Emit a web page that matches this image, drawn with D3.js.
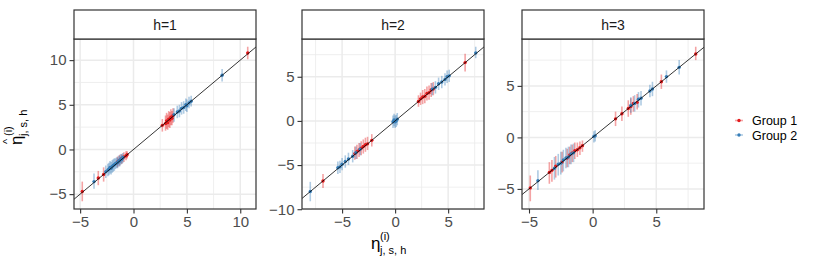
<!DOCTYPE html>
<html>
<head>
<meta charset="utf-8">
<script src="https://cdn.jsdelivr.net/npm/d3@7"></script>
<style>
  body { margin: 0; background: #fff; }
  svg { font-family: "Liberation Sans", Arial, sans-serif; }
</style>
</head>
<body>
<div id="wrapper"></div>
<script>
// each row: [true value, estimate, lower, upper]
const h1Group1 = [
  [-4.8, -4.7, -5.8, -3.6], [-3.3, -3.2, -4.0, -2.4], [-2.8, -2.8, -3.6, -2.0],
  [-1.5, -1.4, -2.0, -0.8], [-1.3, -1.2, -1.8, -0.6], [-1.1, -1.0, -1.6, -0.5],
  [-0.9, -0.85, -1.4, -0.3], [-0.7, -0.7, -1.2, -0.2], [-0.6, -0.6, -1.0, -0.2],
  [2.7, 2.7, 2.0, 3.4], [3.0, 2.9, 2.1, 3.8], [3.1, 3.2, 2.3, 4.1],
  [3.2, 3.0, 2.2, 3.9], [3.3, 3.4, 2.5, 4.3], [3.4, 3.3, 2.4, 4.2],
  [3.5, 3.6, 2.7, 4.5], [3.6, 3.5, 2.7, 4.3], [3.7, 3.8, 3.0, 4.6],
  [10.7, 10.8, 10.1, 11.5]
];
const h1Group2 = [
  [-3.7, -3.6, -4.4, -2.7], [-2.6, -2.5, -3.2, -1.8], [-2.4, -2.3, -3.0, -1.6],
  [-2.3, -2.2, -2.9, -1.5], [-2.2, -2.0, -2.7, -1.3], [-2.1, -2.1, -2.8, -1.4],
  [-2.0, -1.9, -2.6, -1.2], [-1.9, -1.8, -2.5, -1.1], [-1.8, -1.7, -2.4, -1.0],
  [-1.7, -1.6, -2.2, -1.0], [-1.6, -1.5, -2.1, -0.9], [-1.5, -1.5, -2.1, -0.9],
  [-1.4, -1.3, -1.9, -0.7], [-1.3, -1.3, -1.9, -0.7], [-1.2, -1.1, -1.7, -0.5],
  [-1.1, -1.1, -1.6, -0.6], [-1.0, -0.9, -1.5, -0.4],
  [3.8, 3.9, 3.1, 4.6], [4.1, 4.2, 3.5, 4.9], [4.3, 4.3, 3.6, 5.0],
  [4.5, 4.6, 3.9, 5.3], [4.7, 4.7, 4.0, 5.4], [4.9, 5.0, 4.3, 5.7],
  [5.0, 4.9, 4.2, 5.6], [5.2, 5.2, 4.6, 5.9], [5.4, 5.4, 4.8, 6.0],
  [8.3, 8.3, 7.6, 9.0]
];
const h2Group1 = [
  [-6.8, -6.8, -7.6, -6.0], [-3.8, -3.7, -4.4, -2.9], [-3.6, -3.5, -4.3, -2.7],
  [-3.4, -3.3, -4.1, -2.5], [-3.2, -3.1, -3.9, -2.3], [-3.0, -2.9, -3.7, -2.1],
  [-2.8, -2.7, -3.5, -1.9], [-2.6, -2.6, -3.3, -1.8], [-2.2, -2.2, -2.9, -1.5],
  [2.2, 2.2, 1.6, 2.9], [2.4, 2.5, 1.8, 3.2], [2.6, 2.7, 1.9, 3.5],
  [2.8, 2.8, 2.0, 3.6], [3.0, 3.1, 2.3, 3.9], [3.2, 3.2, 2.4, 4.0],
  [3.4, 3.5, 2.7, 4.3], [3.6, 3.6, 2.9, 4.4], [6.6, 6.6, 5.6, 7.6]
];
const h2Group2 = [
  [-8.0, -8.0, -9.1, -6.9], [-5.4, -5.3, -6.0, -4.6], [-5.2, -5.2, -5.9, -4.5],
  [-5.0, -4.9, -5.6, -4.2], [-4.7, -4.6, -5.3, -3.9], [-4.4, -4.3, -5.0, -3.6],
  [-4.0, -4.0, -4.7, -3.3], [-3.7, -3.6, -4.3, -2.9], [-3.3, -3.2, -3.9, -2.5],
  [-0.2, -0.1, -0.8, 0.6], [-0.1, 0.1, -0.6, 0.8], [0.0, -0.1, -0.8, 0.6],
  [0.1, 0.0, -0.7, 0.7], [0.2, 0.2, -0.5, 0.9],
  [3.5, 3.6, 2.9, 4.3], [3.8, 3.8, 3.1, 4.5], [4.1, 4.2, 3.5, 4.9],
  [4.4, 4.4, 3.7, 5.1], [4.7, 4.7, 4.0, 5.4], [4.9, 5.0, 4.3, 5.7],
  [5.1, 5.1, 4.4, 5.8], [7.6, 7.7, 7.1, 8.4]
];
const h3Group1 = [
  [-4.9, -4.9, -6.2, -3.7], [-3.4, -3.4, -4.5, -2.4], [-3.2, -3.2, -4.3, -2.2],
  [-2.9, -2.8, -3.9, -1.8], [-2.4, -2.4, -3.4, -1.4], [-2.0, -2.0, -2.9, -1.1],
  [-1.8, -1.7, -2.6, -0.9], [-1.6, -1.5, -2.4, -0.7], [-1.4, -1.3, -2.1, -0.5],
  [-1.2, -1.2, -1.9, -0.5], [-1.0, -1.0, -1.7, -0.4], [-0.8, -0.8, -1.4, -0.3],
  [1.8, 1.8, 1.1, 2.5], [2.3, 2.3, 1.6, 3.0], [2.8, 2.8, 2.0, 3.6],
  [3.0, 3.0, 2.2, 3.8], [3.2, 3.3, 2.5, 4.0], [3.5, 3.4, 2.7, 4.2],
  [5.4, 5.4, 4.7, 6.1], [8.1, 8.1, 7.5, 8.8]
];
const h3Group2 = [
  [-4.3, -4.2, -5.1, -3.2], [-3.0, -3.0, -4.1, -1.9], [-2.7, -2.6, -3.7, -1.6],
  [-2.5, -2.5, -3.6, -1.4], [-2.3, -2.2, -3.3, -1.2], [-2.1, -2.0, -3.0, -1.0],
  [-1.9, -1.9, -2.9, -0.9], [-1.7, -1.6, -2.6, -0.7], [-1.5, -1.5, -2.4, -0.6],
  [0.1, 0.1, -0.5, 0.6], [0.2, 0.15, -0.4, 0.7],
  [3.0, 3.1, 2.4, 3.9], [3.3, 3.3, 2.5, 4.1], [3.6, 3.7, 2.9, 4.4],
  [3.8, 3.8, 3.1, 4.5], [4.5, 4.5, 3.9, 5.1], [4.7, 4.7, 4.0, 5.4],
  [5.8, 5.9, 5.3, 6.5], [6.8, 6.8, 6.1, 7.5]
];

const facetLabels = ["h=1", "h=2", "h=3"];
const groupNames = ["Group 1", "Group 2"];
const groupColors = ["#E41A1C", "#377EB8"];
const xBreaks = [[-5, 0, 5, 10], [-5, 0, 5], [-5, 0, 5]];
const yBreaks = [[-5, 0, 5, 10], [-10, -5, 0, 5], [-5, 0, 5]];

const panelData = [[h1Group1, h1Group2], [h2Group1, h2Group2], [h3Group1, h3Group2]];

const width = 830, height = 277;
const panelLefts = [74, 302, 522];
const panelW = 182;
const stripTop = 10, panelTop = 39, panelBottom = 209;

let svg = d3.select("#wrapper").append("svg")
            .attr("width", width)
            .attr("height", height);

svg.append("rect").attr("width", width).attr("height", height).attr("fill", "#fff");

// ggplot-style 5% expansion
function expand(ext) {
    let d = ext[1] - ext[0];
    return [ext[0] - d * 0.05, ext[1] + d * 0.05];
}

function minorBreaks(br, dom) {
    let step = br[1] - br[0];
    let out = [];
    for (let i = -1; i < br.length; i++) {
        let m = br[0] + step * i + step / 2;
        if (m > dom[0] && m < dom[1]) out.push(m);
    }
    return out;
}

panelData.forEach((groups, p) => {
    let rows = groups.flatMap((g, gi) => g.map(r => ({x: r[0], y: r[1], lo: r[2], hi: r[3], g: gi})));
    let xDom = expand(d3.extent(rows, d => d.x));
    let yDom = expand([d3.min(rows, d => d.lo), d3.max(rows, d => d.hi)]);

    let x0 = panelLefts[p], x1 = x0 + panelW;
    let xScale = d3.scaleLinear().domain(xDom).range([x0, x1]);
    let yScale = d3.scaleLinear().domain(yDom).range([panelBottom, panelTop]);

    let g = svg.append("g");

    g.append("clipPath").attr("id", `clip${p}`)
        .append("rect")
        .attr("x", x0).attr("y", panelTop)
        .attr("width", panelW).attr("height", panelBottom - panelTop);

    // minor grid
    g.append("g").selectAll("line")
        .data(minorBreaks(xBreaks[p], xDom))
        .enter().append("line")
        .attr("x1", d => xScale(d)).attr("x2", d => xScale(d))
        .attr("y1", panelTop).attr("y2", panelBottom)
        .attr("stroke", "#EBEBEB").attr("stroke-width", 0.8);
    g.append("g").selectAll("line")
        .data(minorBreaks(yBreaks[p], yDom))
        .enter().append("line")
        .attr("y1", d => yScale(d)).attr("y2", d => yScale(d))
        .attr("x1", x0).attr("x2", x1)
        .attr("stroke", "#EBEBEB").attr("stroke-width", 0.8);

    // major grid
    g.append("g").selectAll("line")
        .data(xBreaks[p])
        .enter().append("line")
        .attr("x1", d => xScale(d)).attr("x2", d => xScale(d))
        .attr("y1", panelTop).attr("y2", panelBottom)
        .attr("stroke", "#EBEBEB").attr("stroke-width", 1.5);
    g.append("g").selectAll("line")
        .data(yBreaks[p])
        .enter().append("line")
        .attr("y1", d => yScale(d)).attr("y2", d => yScale(d))
        .attr("x1", x0).attr("x2", x1)
        .attr("stroke", "#EBEBEB").attr("stroke-width", 1.5);

    let plotG = g.append("g").attr("clip-path", `url(#clip${p})`);

    // error bars
    plotG.append("g").selectAll("line")
        .data(rows)
        .enter().append("line")
        .attr("x1", d => xScale(d.x)).attr("x2", d => xScale(d.x))
        .attr("y1", d => yScale(d.lo)).attr("y2", d => yScale(d.hi))
        .attr("stroke", d => groupColors[d.g])
        .attr("stroke-opacity", 0.4)
        .attr("stroke-width", 1.6);

    // points
    plotG.append("g").selectAll("circle")
        .data(rows)
        .enter().append("circle")
        .attr("cx", d => xScale(d.x)).attr("cy", d => yScale(d.y))
        .attr("r", 1.7)
        .attr("fill", d => groupColors[d.g]);

    // identity line
    plotG.append("line")
        .attr("x1", xScale(xDom[0])).attr("y1", yScale(xDom[0]))
        .attr("x2", xScale(xDom[1])).attr("y2", yScale(xDom[1]))
        .attr("stroke", "#000").attr("stroke-width", 0.8);

    // panel border
    g.append("rect")
        .attr("x", x0).attr("y", panelTop)
        .attr("width", panelW).attr("height", panelBottom - panelTop)
        .attr("fill", "none").attr("stroke", "#333333").attr("stroke-width", 1.2);

    // strip
    g.append("rect")
        .attr("x", x0).attr("y", stripTop)
        .attr("width", panelW).attr("height", panelTop - stripTop)
        .attr("fill", "#fff").attr("stroke", "#333333").attr("stroke-width", 1.2);
    g.append("text")
        .attr("x", x0 + panelW / 2).attr("y", (stripTop + panelTop) / 2 + 5)
        .attr("text-anchor", "middle")
        .attr("font-size", "14px")
        .attr("fill", "#1A1A1A")
        .text(facetLabels[p]);

    // axes
    let xAxis = d3.axisBottom(xScale).tickValues(xBreaks[p]).tickSize(4.5).tickPadding(3)
                  .tickFormat(d => d < 0 ? "\u2212" + Math.abs(d) : d);
    let xG = g.append("g")
              .attr("transform", `translate(0, ${panelBottom})`)
              .call(xAxis);
    let yAxis = d3.axisLeft(yScale).tickValues(yBreaks[p]).tickSize(4.5).tickPadding(3)
                  .tickFormat(d => d < 0 ? "\u2212" + Math.abs(d) : d);
    let yG = g.append("g")
              .attr("transform", `translate(${x0}, 0)`)
              .call(yAxis);
    [xG, yG].forEach(a => {
        a.select(".domain").remove();
        a.selectAll(".tick line").attr("stroke", "#333333").attr("stroke-width", 1.1);
        a.selectAll(".tick text")
            .attr("fill", "#4D4D4D")
            .style("font-size", "15px")
            .style("font-family", "'Liberation Sans', Arial, sans-serif");
    });
});

// x-axis title: eta^(i)_{j,s,h}
let xTitle = svg.append("g").attr("transform", "translate(371, 249)");
xTitle.append("text").attr("x", 0).attr("y", 0).attr("font-size", "17px").attr("fill", "#000").text("\u03B7");
xTitle.append("text").attr("x", 9).attr("y", -9).attr("font-size", "11px").attr("fill", "#000").text("(i)");
xTitle.append("text").attr("x", 9).attr("y", 5).attr("font-size", "11px").attr("fill", "#000").text("j, s, h");

// y-axis title: hat eta^(i)_{j,s,h}
let yTitle = svg.append("g").attr("transform", "translate(22, 145) rotate(-90)");
yTitle.append("text").attr("x", 0).attr("y", 0).attr("font-size", "17px").attr("fill", "#000").text("\u03B7");
yTitle.append("text").attr("x", 1).attr("y", -11).attr("font-size", "11px").attr("fill", "#000").text("^");
yTitle.append("text").attr("x", 9).attr("y", -10).attr("font-size", "11px").attr("fill", "#000").text("(i)");
yTitle.append("text").attr("x", 9).attr("y", 5).attr("font-size", "11px").attr("fill", "#000").text("j, s, h");

// legend
let legend = svg.append("g").selectAll("g")
                .data(groupNames)
                .enter().append("g")
                .attr("transform", (d, i) => `translate(739, ${120.5 + i * 14.5})`);
legend.append("line")
      .attr("x1", -4).attr("x2", 4).attr("y1", 0).attr("y2", 0)
      .attr("stroke", (d, i) => groupColors[i])
      .attr("stroke-opacity", 0.4).attr("stroke-width", 1.6);
legend.append("circle")
      .attr("r", 1.7)
      .attr("fill", (d, i) => groupColors[i]);
legend.append("text")
      .attr("x", 13).attr("y", 4.5)
      .attr("font-size", "12.5px")
      .attr("fill", "#000")
      .text(d => d);
</script>
</body>
</html>
